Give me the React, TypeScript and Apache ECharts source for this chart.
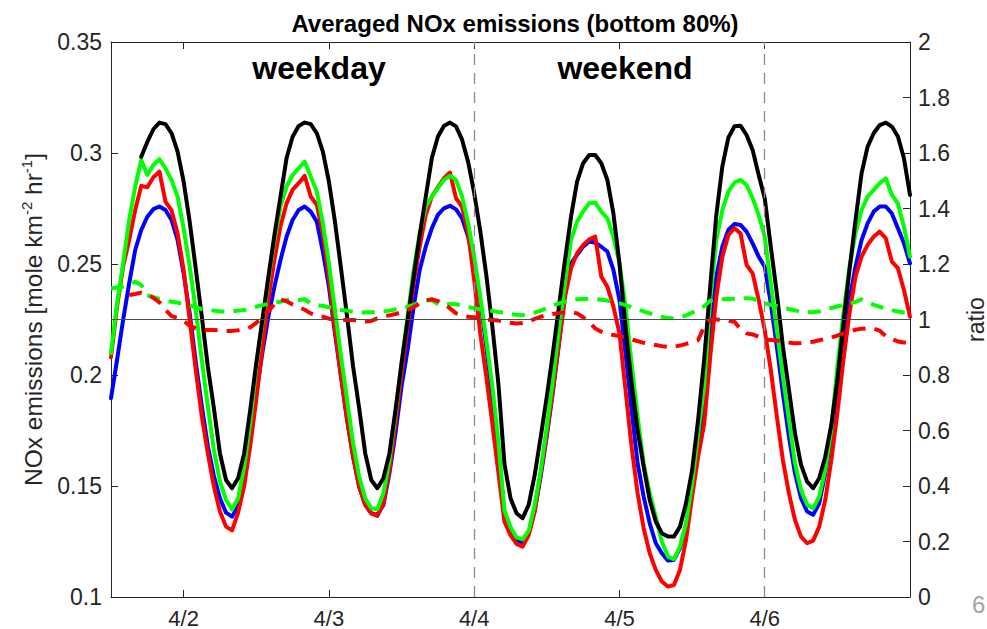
import React, { useEffect, useRef } from 'react';
import * as echarts from 'echarts';

// hours counted from 4/1 00:00
const dayTicks = [24, 48, 72, 96, 120];
const dayLabels = ['4/2', '4/3', '4/4', '4/5', '4/6'];
const weekendBounds = [72, 120];
const annotations = ['weekday', 'weekend'];

const blueStart = 12;
const blue = [
  0.1895, 0.2068, 0.2248, 0.2413, 0.2563, 0.2653, 0.2713, 0.2747, 0.2759, 0.2743, 0.2698, 0.2608, 0.2458, 0.2278,
  0.206, 0.186, 0.168, 0.1545, 0.1445, 0.138, 0.1362, 0.141, 0.1557, 0.1738, 0.1918, 0.2098, 0.2263, 0.2398, 0.2518, 0.2623, 0.2698, 0.2743, 0.2759,
  0.2736, 0.2691, 0.2556, 0.2398, 0.2188, 0.1993, 0.1798, 0.1632, 0.1497, 0.1415, 0.1377, 0.137, 0.1415, 0.1557, 0.1738, 0.1948,
  0.2113, 0.2308, 0.2473, 0.2578, 0.2661, 0.2721, 0.2751, 0.2762, 0.2746, 0.2706, 0.2623, 0.2503, 0.2338, 0.2128, 0.190, 0.166,
  0.137, 0.1305, 0.1255, 0.1245, 0.1285, 0.139, 0.1545, 0.1725, 0.1925, 0.214, 0.236, 0.2503, 0.2541, 0.2578, 0.2601, 0.2596, 0.2578,
  0.2556, 0.2473, 0.2338, 0.2098, 0.1843, 0.1602, 0.1452, 0.1332, 0.1242, 0.1197, 0.1164, 0.1167, 0.122, 0.1325, 0.1482, 0.1677, 0.19,
  0.2218, 0.2443, 0.2578, 0.2653, 0.268, 0.2676, 0.2646, 0.2593, 0.2533, 0.2488, 0.2323, 0.2128, 0.1918, 0.1722, 0.1557, 0.1445, 0.1385,
  0.137, 0.1422, 0.1557, 0.1722, 0.1933, 0.2158, 0.2338, 0.2488, 0.2608, 0.2683, 0.2736, 0.2759, 0.2759, 0.2728, 0.2661, 0.2593, 0.2503,
];

const greenStart = 12;
const green = [
  0.2098, 0.2323, 0.2503, 0.2698, 0.2849, 0.2969, 0.2901, 0.2946, 0.2972, 0.2931, 0.2879, 0.2804, 0.2661, 0.2488, 0.2293, 0.2068, 0.1858,
  0.1662, 0.152, 0.1437, 0.1395, 0.1445, 0.1587, 0.1783, 0.2037, 0.2233, 0.2428, 0.2608, 0.2758, 0.2849, 0.2901, 0.2931, 0.2961,
  0.2894, 0.2826, 0.2683, 0.2503, 0.2293, 0.2083, 0.1888, 0.1692, 0.1542, 0.1445, 0.14, 0.1395, 0.1467, 0.1617, 0.1828, 0.2053,
  0.2263, 0.2473, 0.2638, 0.2758, 0.2804, 0.2841, 0.2879, 0.2897, 0.2879, 0.2804, 0.2683, 0.2533, 0.2353, 0.2158, 0.1948, 0.170,
  0.139, 0.1315, 0.1269, 0.126, 0.1299, 0.1415, 0.1572, 0.1768, 0.1978, 0.2203, 0.2413, 0.2608, 0.2691, 0.2736, 0.2774, 0.2777, 0.2736,
  0.2706, 0.2623, 0.2503, 0.2308, 0.2053, 0.1813, 0.1602, 0.1467, 0.1362, 0.125, 0.1182, 0.117, 0.1227, 0.1332, 0.1512, 0.1737, 0.195,
  0.2338, 0.2608, 0.2743, 0.2826, 0.2867, 0.2879, 0.2856, 0.2796, 0.2721, 0.2623, 0.2413, 0.2203, 0.1993, 0.1798, 0.1602, 0.1482, 0.1415,
  0.14, 0.1452, 0.1572, 0.1753, 0.2037, 0.2278, 0.2488, 0.2638, 0.2743, 0.2804, 0.2834, 0.2864, 0.2886, 0.2811, 0.2773, 0.2668, 0.2533,
];

const redStart = 12;
const red = [
  0.208, 0.2308, 0.2488, 0.2608, 0.2743, 0.2852, 0.2846, 0.2891, 0.2916, 0.2781, 0.2741, 0.2638, 0.2473, 0.2248, 0.2023, 0.1813, 0.1647,
  0.1497, 0.1385, 0.1317, 0.13, 0.138, 0.15, 0.168, 0.189, 0.212, 0.234, 0.252, 0.267, 0.2773, 0.2834, 0.2864, 0.2897,
  0.2804, 0.2766, 0.2638, 0.2443, 0.2203, 0.1993, 0.1798, 0.1632, 0.1497, 0.1415, 0.1377, 0.1365, 0.1422, 0.1572, 0.1783, 0.2008,
  0.2218, 0.2413, 0.2578, 0.2721, 0.2804, 0.2846, 0.2886, 0.2912, 0.2796, 0.2758, 0.2638, 0.2428, 0.2188, 0.1993, 0.178, 0.156,
  0.134, 0.1279, 0.1239, 0.1227, 0.1279, 0.1385, 0.1557, 0.1737, 0.1933, 0.2143, 0.2353, 0.2481, 0.2548, 0.2586, 0.2611, 0.2623, 0.2443,
  0.2398, 0.2308, 0.2188, 0.1933, 0.1677, 0.1467, 0.131, 0.1197, 0.1122, 0.107, 0.1047, 0.1054, 0.1122, 0.1257, 0.1452, 0.1632, 0.178,
  0.2083, 0.2353, 0.2533, 0.2631, 0.2661, 0.2638, 0.2496, 0.2458, 0.2338, 0.2203, 0.2023, 0.1813, 0.1617, 0.1467, 0.1347, 0.1272, 0.1242,
  0.1254, 0.1317, 0.1437, 0.1617, 0.1828, 0.2068, 0.2278, 0.2443, 0.2533, 0.2586, 0.2623, 0.2646, 0.2616, 0.2511, 0.2481, 0.2383, 0.2263,
];

const blackStart = 17;
const black = [
  0.2983, 0.305, 0.3107, 0.3137, 0.313, 0.3089, 0.3006, 0.2871, 0.269, 0.248, 0.2263, 0.2037, 0.185, 0.1647, 0.1527, 0.149,
  0.1535, 0.1647, 0.1842, 0.2053, 0.2248, 0.2443, 0.2631, 0.2803, 0.2976, 0.3073, 0.3122, 0.3137,
  0.313, 0.3089, 0.3006, 0.2871, 0.269, 0.248, 0.2263, 0.2037, 0.185, 0.1647, 0.1527, 0.149,
  0.1535, 0.1647, 0.1842, 0.2053, 0.2248, 0.2443, 0.2631, 0.2803, 0.2976, 0.3073, 0.3122, 0.3137,
  0.312, 0.306, 0.296, 0.282, 0.265, 0.245, 0.222, 0.196, 0.16, 0.1445, 0.1377, 0.1355,
  0.1415, 0.155, 0.1722, 0.1903, 0.2098, 0.2308, 0.2518, 0.2713, 0.2871, 0.2954, 0.2991, 0.2991, 0.2954, 0.2879, 0.2728,
  0.2503, 0.2218, 0.1963, 0.1752, 0.1587, 0.1437, 0.134, 0.1287, 0.1272, 0.1272, 0.1317, 0.1422, 0.157, 0.18, 0.207,
  0.24, 0.272, 0.294, 0.307, 0.312, 0.3123, 0.3081, 0.3014, 0.2901, 0.2796, 0.2578, 0.2368, 0.2128, 0.1933, 0.1737, 0.1595, 0.152,
  0.149, 0.1535, 0.1632, 0.1775, 0.1978, 0.2233, 0.2473, 0.2698, 0.2909, 0.3029, 0.3089, 0.3126, 0.3137, 0.3119, 0.3074, 0.2976, 0.2811,
];

const greenRatioStart = 12;
const greenRatio = [
  1.112, 1.115, 1.118, 1.128, 1.136, 1.124, 1.088, 1.08, 1.074, 1.068, 1.064, 1.061, 1.055, 1.05, 1.044, 1.038, 1.034,
  1.032, 1.029, 1.029, 1.029, 1.032, 1.034, 1.04, 1.046, 1.052, 1.056, 1.061, 1.064, 1.07, 1.073, 1.07, 1.073,
  1.058, 1.052, 1.049, 1.044, 1.039, 1.034, 1.032, 1.028, 1.026, 1.025, 1.026, 1.027, 1.029, 1.032, 1.037, 1.041,
  1.046, 1.053, 1.062, 1.069, 1.07, 1.056, 1.053, 1.056, 1.055, 1.051, 1.046, 1.04, 1.037, 1.034, 1.031, 1.027,
  1.025, 1.02, 1.017, 1.016, 1.019, 1.025, 1.032, 1.04, 1.05, 1.058, 1.065, 1.07, 1.073, 1.074, 1.075, 1.074, 1.071,
  1.068, 1.063, 1.058, 1.052, 1.044, 1.037, 1.029, 1.022, 1.015, 1.01, 1.005, 1.004, 1.008, 1.015, 1.025, 1.034, 1.048,
  1.068, 1.071, 1.073, 1.074, 1.075, 1.076, 1.077, 1.075, 1.067, 1.058, 1.053, 1.049, 1.044, 1.038, 1.033, 1.028, 1.026,
  1.026, 1.029, 1.035, 1.041, 1.047, 1.053, 1.058, 1.063, 1.073, 1.064, 1.053, 1.046, 1.039, 1.034, 1.029, 1.025, 1.022,
];

const redRatioStart = 15;
const redRatio = [
  1.088, 1.092, 1.097, 1.09, 1.078, 1.062, 1.035, 1.012, 1.006, 0.995, 0.978, 0.968, 0.963, 0.962, 0.962,
  0.961, 0.959, 0.959, 0.961, 0.964, 0.972, 0.988, 1.008, 1.03, 1.055, 1.072, 1.066, 1.054, 1.045, 1.035,
  1.022, 1.015, 1.01, 1.003, 1.0, 0.999, 0.998, 0.998, 0.996, 0.993, 0.995, 1.004, 1.01, 1.015, 1.02, 1.026,
  1.034, 1.045, 1.058, 1.068, 1.073, 1.066, 1.057, 1.04, 1.022, 1.016, 1.01, 1.008, 1.003, 1.0, 0.998, 0.996,
  0.992, 0.988, 0.986, 0.987, 0.993, 1.002, 1.01, 1.016, 1.02, 1.023, 1.026, 1.028, 1.022, 1.008, 0.99, 0.968, 0.956,
  0.948, 0.944, 0.94, 0.934, 0.928, 0.922, 0.916, 0.912, 0.908, 0.904, 0.901, 0.902, 0.906, 0.912, 0.918, 0.926, 0.975,
  1.0, 1.0, 0.998, 0.996, 0.992, 0.965, 0.95, 0.946, 0.938, 0.928, 0.926, 0.924, 0.921, 0.917, 0.914, 0.915, 0.917,
  0.92, 0.925, 0.93, 0.935, 0.942, 0.95, 0.956, 0.963, 0.967, 0.968, 0.967, 0.96, 0.94, 0.93, 0.921, 0.917, 0.916,
];

const FONT = '"Liberation Sans", Arial, Helvetica, sans-serif';
const AXIS_COLOR = '#262626';

const toPairs = (start: number, vals: number[]) => vals.map((v, i) => [start + i, v]);

export default function App() {
  const ref = useRef<HTMLDivElement>(null);

  useEffect(() => {
    if (!ref.current) return;
    const chart = echarts.init(ref.current, null, { renderer: 'svg' });

    const solid = (name: string, color: string, start: number, vals: number[], extra: any = {}) => ({
      name,
      type: 'line',
      xAxisIndex: 0,
      yAxisIndex: 0,
      data: toPairs(start, vals),
      showSymbol: false,
      symbol: 'none',
      lineStyle: { color, width: 4, join: 'round', cap: 'round' },
      itemStyle: { color },
      ...extra,
    });
    const dashed = (name: string, color: string, start: number, vals: number[], extra: any = {}) => ({
      name,
      type: 'line',
      xAxisIndex: 0,
      yAxisIndex: 1,
      data: toPairs(start, vals),
      showSymbol: false,
      symbol: 'none',
      lineStyle: { color, width: 4, type: [13, 9] },
      itemStyle: { color },
      ...extra,
    });

    const xLabel = (v: number) => {
      const i = dayTicks.indexOf(Math.round(v));
      return i >= 0 ? dayLabels[i] : '';
    };

    chart.setOption({
      animation: false,
      title: {
        text: 'Averaged NOx emissions (bottom 80%)',
        left: 510,
        top: 6,
        textAlign: 'center',
        textStyle: { fontFamily: FONT, fontSize: 24, fontWeight: 'bold', color: '#000' },
      },
      grid: { left: 111, right: 77, top: 42, bottom: 32, containLabel: false, outerBoundsMode: 'none' },
      xAxis: [
        {
          type: 'value',
          position: 'bottom',
          min: 12,
          max: 144,
          axisLine: { show: true, lineStyle: { color: AXIS_COLOR, width: 1 } },
          axisTick: { show: true, inside: true, length: 7, customValues: dayTicks, lineStyle: { color: AXIS_COLOR } },
          axisLabel: {
            show: true,
            customValues: dayTicks,
            formatter: xLabel,
            fontFamily: FONT,
            fontSize: 22,
            color: AXIS_COLOR,
            margin: 10,
          },
          splitLine: { show: false },
        },
        {
          type: 'value',
          position: 'top',
          min: 12,
          max: 144,
          axisLine: { show: true, onZero: false, lineStyle: { color: AXIS_COLOR, width: 1 } },
          axisTick: { show: true, inside: true, length: 7, customValues: dayTicks, lineStyle: { color: AXIS_COLOR } },
          axisLabel: { show: false },
          splitLine: { show: false },
        },
      ],
      yAxis: [
        {
          type: 'value',
          position: 'left',
          min: 0.1,
          max: 0.35,
          interval: 0.05,
          axisLine: { show: true, lineStyle: { color: AXIS_COLOR, width: 1 } },
          axisTick: { show: true, inside: true, length: 7, lineStyle: { color: AXIS_COLOR } },
          axisLabel: {
            formatter: (v: number) => String(+v.toFixed(2)),
            fontFamily: FONT,
            fontSize: 23,
            color: AXIS_COLOR,
            margin: 9,
          },
          splitLine: { show: false },
          name: '{n|NOx emissions [mole km}{s|-2}{n| hr}{s|-1}{n|]}',
          nameLocation: 'middle',
          nameRotate: 90,
          nameGap: 60,
          nameTextStyle: {
            fontFamily: FONT,
            color: AXIS_COLOR,
            rich: {
              n: { fontFamily: FONT, fontSize: 24.5, lineHeight: 30, color: AXIS_COLOR },
              s: { fontFamily: FONT, fontSize: 15, lineHeight: 16, verticalAlign: 'top', color: AXIS_COLOR },
            },
          },
        },
        {
          type: 'value',
          position: 'right',
          min: 0,
          max: 2,
          interval: 0.2,
          axisLine: { show: true, lineStyle: { color: AXIS_COLOR, width: 1 } },
          axisTick: { show: true, inside: true, length: 7, lineStyle: { color: AXIS_COLOR } },
          axisLabel: {
            formatter: (v: number) => String(+v.toFixed(1)),
            fontFamily: FONT,
            fontSize: 23,
            color: AXIS_COLOR,
            margin: 8,
          },
          splitLine: { show: false },
          name: 'ratio',
          nameLocation: 'middle',
          nameRotate: 90,
          nameGap: 54,
          nameTextStyle: { fontFamily: FONT, fontSize: 23, color: AXIS_COLOR },
        },
      ],
      series: [
        solid('blue', '#0000ff', blueStart, blue, {
          markLine: {
            silent: true,
            symbol: ['none', 'none'],
            label: { show: false },
            lineStyle: { color: '#8c8c8c', width: 1.3, type: [11, 8] },
            data: weekendBounds.map((x) => ({ xAxis: x })),
          },
        }),
        solid('red', '#ff0000', redStart, red),
        solid('green', '#00ff00', greenStart, green),
        solid('black', '#000000', blackStart, black),
        dashed('green ratio', '#00ff00', greenRatioStart, greenRatio, {
          markLine: {
            silent: true,
            symbol: ['none', 'none'],
            label: { show: false },
            lineStyle: { color: '#4d4d4d', width: 1, type: 'solid' },
            data: [{ yAxis: 1 }],
          },
        }),
        dashed('red ratio', '#ff0000', redRatioStart, redRatio),
      ],
      graphic: [
        {
          type: 'text',
          x: 319,
          y: 68,
          style: {
            text: annotations[0],
            fontFamily: FONT,
            fontSize: 32,
            fontWeight: 'bold',
            fill: '#000',
            textAlign: 'center',
            textVerticalAlign: 'middle',
          },
        },
        {
          type: 'text',
          x: 625,
          y: 68,
          style: {
            text: annotations[1],
            fontFamily: FONT,
            fontSize: 32,
            fontWeight: 'bold',
            fill: '#000',
            textAlign: 'center',
            textVerticalAlign: 'middle',
          },
        },
        {
          type: 'text',
          x: 972,
          y: 604,
          style: {
            text: '6',
            fontFamily: FONT,
            fontSize: 24,
            fill: '#a6a6a6',
            textAlign: 'left',
            textVerticalAlign: 'middle',
          },
        },
      ],
    });

    return () => chart.dispose();
  }, []);

  return (
    <div
      ref={ref}
      style={{ position: 'absolute', left: 0, top: 0, width: 987, height: 629, background: '#fff' }}
    />
  );
}
